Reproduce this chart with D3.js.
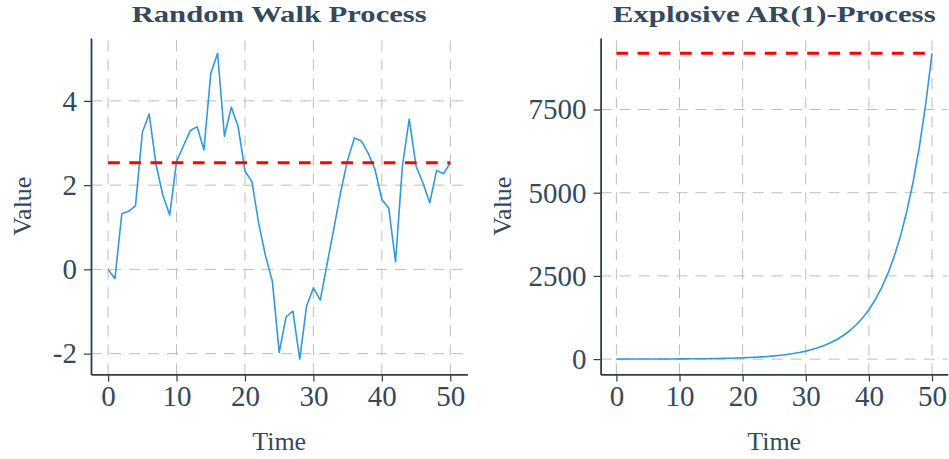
<!DOCTYPE html>
<html>
<head>
<meta charset="utf-8">
<script src="https://cdn.jsdelivr.net/npm/d3@7"></script>
<style>
  body { margin: 0; background: #ffffff; }
  svg { display: block; }
  text { font-family: "Liberation Serif", "Times New Roman", serif; fill: #34495e; }
</style>
</head>
<body>
<div class="chartHolder"></div>
<script>
// chart data
const timeSteps = d3.range(0, 51);

const randomWalk = [0, -0.22, 1.32, 1.38, 1.51, 3.25, 3.69, 2.49, 1.76, 1.29,
  2.56, 2.93, 3.29, 3.39, 2.84, 4.65, 5.13, 3.16, 3.85, 3.39,
  2.33, 2.09, 1.10, 0.32, -0.28, -1.97, -1.13, -0.99, -2.13, -0.87,
  -0.44, -0.73, 0.13, 0.98, 1.85, 2.6, 3.12, 3.05, 2.76, 2.37,
  1.66, 1.46, 0.18, 2.45, 3.57, 2.45, 2.05, 1.58, 2.35, 2.27, 2.53];

const explosiveAR = [0.2, 1.4, 1.5, 1.9, 2.1, 2.6, 3.0, 3.6, 4.4, 5.2,
  6.3, 7.5, 9.0, 10.8, 13.0, 15.6, 18.7, 22.4, 26.9, 32.2,
  38.7, 46.4, 55.7, 66.9, 80.3, 96.3, 116, 139, 167, 200,
  240, 288, 346, 415, 498, 597, 717, 860, 1032, 1238,
  1486, 1783, 2139, 2567, 3080, 3696, 4436, 5323, 6387, 7665, 9190];

const xTicks = [0, 10, 20, 30, 40, 50];
const walkTicks = [-2, 0, 2, 4];
const arTicks = [0, 2500, 5000, 7500];

const titles = ["Random Walk Process", "Explosive AR(1)-Process"];

// init variables
const width = 949;
const height = 459;
const spineColor = "#2c3e50";
const lineColor = "#3498db";

let svg = d3
  .select(".chartHolder")
  .append("svg")
  .attr("width", width)
  .attr("height", height);

// one panel: gridlines, series, dashed last-value line, axes and labels
function drawPanel(values, yTicks, title, box, titleWidth, labelX) {
  let xScale = d3.scaleLinear()
    .domain([-2.5, 52.5])
    .range([box.left, box.right]);

  let yMin = d3.min(values);
  let yMax = d3.max(values);
  let pad = (yMax - yMin) * 0.05;

  let yScale = d3.scaleLinear()
    .domain([yMin - pad, yMax + pad])
    .range([box.bottom, box.top]);

  let g = svg.append("g");

  // dashed grid
  g.selectAll(".vgrid")
    .data(xTicks)
    .enter()
    .append("line")
    .attr("x1", (d) => xScale(d))
    .attr("x2", (d) => xScale(d))
    .attr("y1", box.bottom)
    .attr("y2", box.top)
    .attr("stroke", "#bdbdbd")
    .attr("stroke-width", 1)
    .attr("stroke-dasharray", "11,8");

  g.selectAll(".hgrid")
    .data(yTicks)
    .enter()
    .append("line")
    .attr("x1", box.left)
    .attr("x2", box.right)
    .attr("y1", (d) => yScale(d))
    .attr("y2", (d) => yScale(d))
    .attr("stroke", "#bdbdbd")
    .attr("stroke-width", 1)
    .attr("stroke-dasharray", "11,8");

  // series
  let line = d3.line()
    .x((d, i) => xScale(timeSteps[i]))
    .y((d) => yScale(d));

  g.append("path")
    .datum(values)
    .attr("d", line)
    .attr("fill", "none")
    .attr("stroke", lineColor)
    .attr("stroke-width", 1.6)
    .attr("stroke-linejoin", "round");

  // red dashed line at the last value
  let last = values[values.length - 1];
  g.append("line")
    .attr("x1", xScale(timeSteps[0]))
    .attr("x2", xScale(timeSteps[timeSteps.length - 1]))
    .attr("y1", yScale(last))
    .attr("y2", yScale(last))
    .attr("stroke", "#ff0000")
    .attr("stroke-width", 3)
    .attr("stroke-dasharray", "11.7,9.5");

  // axes
  let xAxis = d3.axisBottom(xScale)
    .tickValues(xTicks)
    .tickFormat(String)
    .tickSize(7)
    .tickSizeOuter(0)
    .tickPadding(4);

  let yAxis = d3.axisLeft(yScale)
    .tickValues(yTicks)
    .tickFormat(String)
    .tickSize(7)
    .tickSizeOuter(0)
    .tickPadding(7);

  let xg = g.append("g")
    .attr("transform", "translate(0," + box.bottom + ")")
    .call(xAxis);

  let yg = g.append("g")
    .attr("transform", "translate(" + box.left + ",0)")
    .call(yAxis);

  [xg, yg].forEach((ax) => {
    ax.select(".domain")
      .attr("stroke", spineColor)
      .attr("stroke-width", 1.8);
    ax.selectAll(".tick line")
      .attr("stroke", spineColor)
      .attr("stroke-width", 1.2);
    ax.selectAll(".tick text")
      .attr("font-family", "Liberation Serif, serif")
      .attr("font-size", 29)
      .attr("fill", "#34495e");
  });

  // title and axis labels
  let cx = (box.left + box.right) / 2;
  let cy = (box.top + box.bottom) / 2;

  g.append("text")
    .attr("x", cx)
    .attr("y", 21.5)
    .attr("text-anchor", "middle")
    .attr("font-size", 24)
    .attr("font-weight", "bold")
    .attr("textLength", titleWidth)
    .attr("lengthAdjust", "spacingAndGlyphs")
    .text(title);

  g.append("text")
    .attr("x", cx)
    .attr("y", 450)
    .attr("text-anchor", "middle")
    .attr("font-size", 26)
    .text("Time");

  g.append("text")
    .attr("transform", "translate(" + labelX + "," + cy + ") rotate(-90)")
    .attr("text-anchor", "middle")
    .attr("font-size", 26)
    .text("Value");
}

drawPanel(randomWalk, walkTicks, titles[0],
  { left: 91, right: 467.4, top: 38, bottom: 374.4 }, 295, 31);

drawPanel(explosiveAR, arTicks, titles[1],
  { left: 600.6, right: 947.8, top: 38, bottom: 374.4 }, 323, 511);
</script>
</body>
</html>
